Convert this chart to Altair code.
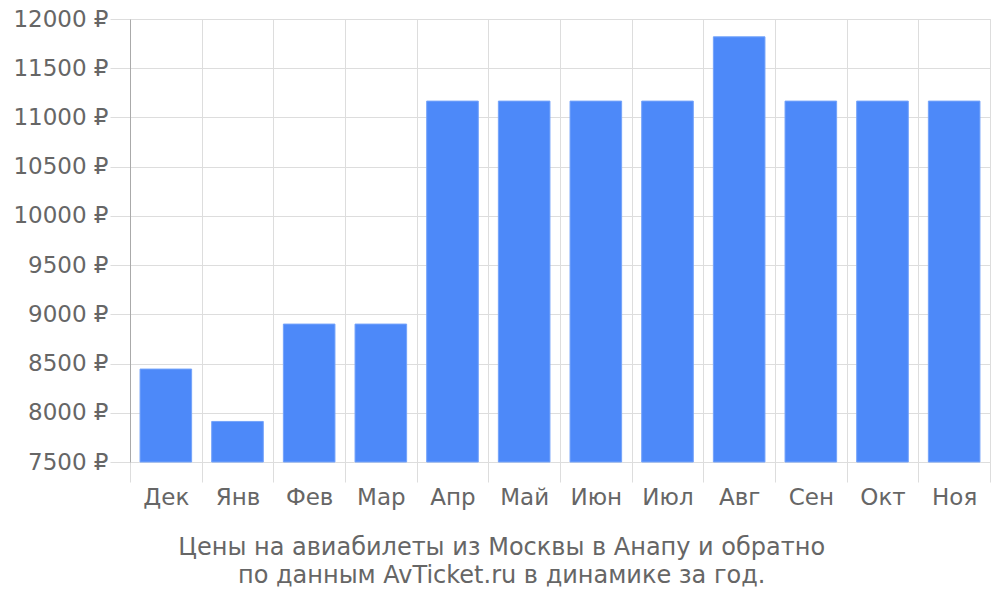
import altair as alt
import pandas as pd

months = ["Дек", "Янв", "Фев", "Мар", "Апр", "Май", "Июн", "Июл", "Авг", "Сен", "Окт", "Ноя"]
prices = [8444, 7912, 8901, 8901, 11166, 11166, 11166, 11166, 11819, 11166, 11166, 11166]
y_ticks = [7500, 8000, 8500, 9000, 9500, 10000, 10500, 11000, 11500, 12000]
title_lines = ["Цены на авиабилеты из Москвы в Анапу и обратно",
               "по данным AvTicket.ru в динамике за год."]

df = pd.DataFrame({"month": months, "price": prices})

FONT = "DejaVu Sans"
GREY = "#666666"

chart = alt.Chart(df).mark_bar(
    color="#4d89f9", stroke="#74a3fa", strokeWidth=1,
    width=alt.RelativeBandSize(0.72)
).encode(
    x=alt.X("month:N", sort=months, title=None,
            scale=alt.Scale(paddingInner=0, paddingOuter=0),
            axis=alt.Axis(labelAngle=0, tickBand="extent", domain=False,
                          grid=True, gridColor="#dddddd", tickColor="#dddddd",
                          tickSize=20, labelPadding=4, labelFontSize=23,
                          labelColor=GREY, labelFont=FONT)),
    y=alt.Y("price:Q", title=None,
            scale=alt.Scale(domain=[7500, 12000], zero=False, nice=False),
            axis=alt.Axis(values=y_ticks, labelExpr="datum.value + ' ₽'",
                          grid=True, gridColor="#dddddd", tickColor="#dddddd",
                          tickSize=20, labelPadding=2, labelFontSize=23,
                          labelColor=GREY, labelFont=FONT,
                          domainColor="#aaaaaa")),
    y2=alt.datum(7500),
).properties(
    width=860, height=443,
    title=alt.TitleParams(text=title_lines, orient="bottom", anchor="middle",
                          frame="bounds", font=FONT, fontSize=24,
                          fontWeight="normal", color=GREY, offset=27,
                          lineHeight=28),
    padding={"left": 122, "top": 11, "right": 2, "bottom": 126},
    autosize=alt.AutoSizeParams(type="none"),
).configure_view(stroke="#dddddd")

chart.save("out.html", embed_options={"renderer": "svg", "actions": False})
